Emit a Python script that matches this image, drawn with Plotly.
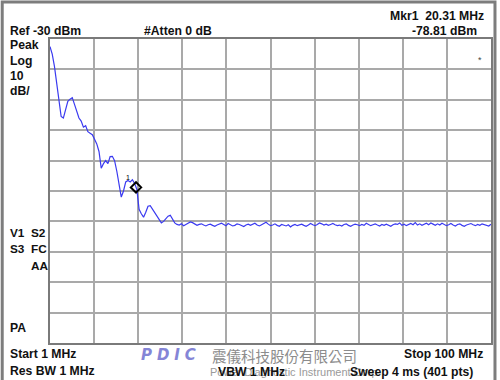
import numpy as np
import plotly.graph_objects as go

# ---- data ----
start_mhz = 1.0
stop_mhz = 100.0
step_mhz = 0.5
ref_dbm = -30
db_per_div = 10
level_dbm = [
    -32.5, -35.0, -39.0, -45.0, -51.0, -55.5, -56.0, -53.5, -50.5, -49.8,
    -49.3, -51.5, -54.0, -56.0, -57.0, -59.0, -58.5, -60.5, -61.0, -61.5,
    -63.0, -64.5, -67.0, -72.5, -71.0, -70.0, -71.0, -68.7, -68.6, -70.0,
    -73.5, -78.0, -82.0, -80.0, -77.0, -76.5, -77.0, -76.3, -77.5, -79.5,
    -86.0, -87.5, -88.6, -87.0, -85.0, -84.8, -86.0, -87.0, -88.5, -89.5,
    -90.5, -90.0, -89.0, -88.3, -88.0, -89.5, -90.5, -91.0, -91.2, -90.8,
    -91.4, -91.0, -90.6, -90.2, -90.4, -90.9, -91.3, -91.0, -90.8, -91.2,
    -91.5, -91.1, -90.9, -91.3, -91.6, -91.2, -90.9, -90.6, -91.0, -91.4,
    -90.7, -91.1, -91.5, -91.3, -90.8, -91.0, -91.4, -91.7, -91.2, -90.9,
    -91.3, -91.0, -90.6, -91.2, -91.5, -91.1, -90.8, -90.3, -90.9, -91.4,
    -91.2, -90.8, -91.3, -91.6, -91.0, -91.3, -91.5, -91.1, -91.8, -91.3,
    -91.0, -91.4, -91.2, -90.9, -91.3, -91.6, -91.2, -90.7, -91.1, -91.4,
    -91.0, -90.5, -90.8, -91.2, -90.9, -91.3, -91.0, -90.7, -91.1, -91.4,
    -91.2, -91.5, -91.0, -90.8, -91.3, -91.6, -91.2, -90.9, -91.1, -91.4,
    -91.0, -91.3, -90.6, -91.0, -91.4, -91.1, -90.8, -91.2, -91.5, -91.0,
    -91.3, -90.9, -91.2, -91.6, -91.1, -90.8, -91.0, -90.5, -91.3, -90.9,
    -91.4, -91.0, -90.7, -91.1, -90.4, -91.2, -90.8, -91.3, -91.0, -90.6,
    -91.1, -90.5, -90.9, -91.3, -90.8, -91.2, -90.6, -91.0, -91.4, -91.1,
    -90.7, -91.2, -91.5, -91.0, -90.8, -91.3, -91.6, -91.2, -91.0, -90.7,
    -91.1, -91.4, -91.0, -91.3, -90.8, -91.0, -91.2, -91.5, -90.9,
]
freq_mhz = np.round(start_mhz + step_mhz * np.arange(len(level_dbm)), 2)
marker_freq = [20.31]
marker_level = [-78.81]
marker_name = ["1"]

# ---- layout helpers ----
W, H = 500, 380
L, R, T, B = 50, 493, 39, 343


def px(x):
    return (x - L) / (R - L)


def py(y):
    return (B - y) / (B - T)


fig = go.Figure()
fig.add_trace(go.Scatter(
    x=freq_mhz, y=level_dbm, mode="lines",
    line=dict(color="#3a3af0", width=1.2), hoverinfo="skip",
))
fig.add_trace(go.Scatter(
    x=marker_freq, y=marker_level, mode="markers+text",
    text=marker_name, textposition="top left",
    textfont=dict(size=7, color="#000", family="Liberation Sans"),
    marker=dict(symbol="diamond-open", size=8, color="#000",
                line=dict(width=2, color="#000")),
    hoverinfo="skip",
))

grid = "#a9a9a9"
fig.update_xaxes(range=[start_mhz, stop_mhz], tick0=start_mhz,
                 dtick=(stop_mhz - start_mhz) / 10, showticklabels=False,
                 ticks="", showgrid=True, gridcolor=grid, gridwidth=1.5,
                 zeroline=False, showline=True, mirror=True,
                 linecolor="#7a7a7a", linewidth=2)
fig.update_yaxes(range=[ref_dbm - 10 * db_per_div, ref_dbm], tick0=ref_dbm,
                 dtick=db_per_div, showticklabels=False, ticks="",
                 showgrid=True, gridcolor=grid, gridwidth=1.5,
                 zeroline=False, showline=True, mirror=True,
                 linecolor="#7a7a7a", linewidth=2)

bold = dict(family="Liberation Sans", size=12.2, color="#111")
small_bold = dict(family="Liberation Sans", size=11.8, color="#111")
ann = []


def text(s, x, y, anchor="left", font=bold):
    ann.append(dict(text=s, x=px(x), y=py(y), xref="paper", yref="paper",
                    xanchor=anchor, yanchor="middle", showarrow=False,
                    font=font))


text("<b>Ref -30 dBm</b>", 8, 31)
text("<b>#Atten 0 dB</b>", 142, 31)
text("<b>Mkr1  20.31 MHz</b>", 488, 16, "right")
text("<b>-78.81 dBm</b>", 481, 31, "right")
text("<b>Peak</b>", 8, 45)
text("<b>Log</b>", 8, 61)
text("<b>10</b>", 8, 76)
text("<b>dB/</b>", 8, 91)
text("<b>V1  S2</b>", 8, 233, font=small_bold)
text("<b>S3  FC</b>", 8, 249, font=small_bold)
text("<b>AA</b>", 29, 266, font=small_bold)
text("<b>PA</b>", 8, 328)
text("<b>Start 1 MHz</b>", 8, 354)
text("<b>Res BW 1 MHz</b>", 8, 371)
text("<b>Stop 100 MHz</b>", 487, 354, "right")
text("Power Diagnostic Instrument Corp", 209, 372,
     font=dict(family="Liberation Sans", size=11, color="#9a9a9a"))
text("<b>VBW 1 MHz</b>", 217, 372)
text("<b>Sweep 4 ms (401 pts)</b>", 477, 372, "right")
text("<b><i>P\u2004D\u2004I\u2004C</i></b>", 139, 355,
     font=dict(family="DejaVu Sans", size=15, color="#8585d6"))
text("震儀科技股份有限公司", 211, 355,
     font=dict(family="Noto Sans CJK TC", size=14.5, color="#8c8c8c"))
text("*", 482, 60, "center",
     font=dict(family="Liberation Sans", size=9, color="#444"))

shapes = [
    dict(type="rect", xref="paper", yref="paper",
         x0=px(2), x1=px(497), y0=py(2), y1=py(392),
         line=dict(color="#7d7d7d", width=3), layer="below"),
]

fig.update_layout(
    width=W, height=H, margin=dict(l=L, r=W - R, t=T, b=H - B),
    paper_bgcolor="#ffffff", plot_bgcolor="#ffffff", showlegend=False,
    annotations=ann, shapes=shapes,
)
fig.write_html(
    "out.html",
    config={"displayModeBar": False},
    post_script="document.body.style.margin='0';document.body.style.overflow='hidden';",
)
